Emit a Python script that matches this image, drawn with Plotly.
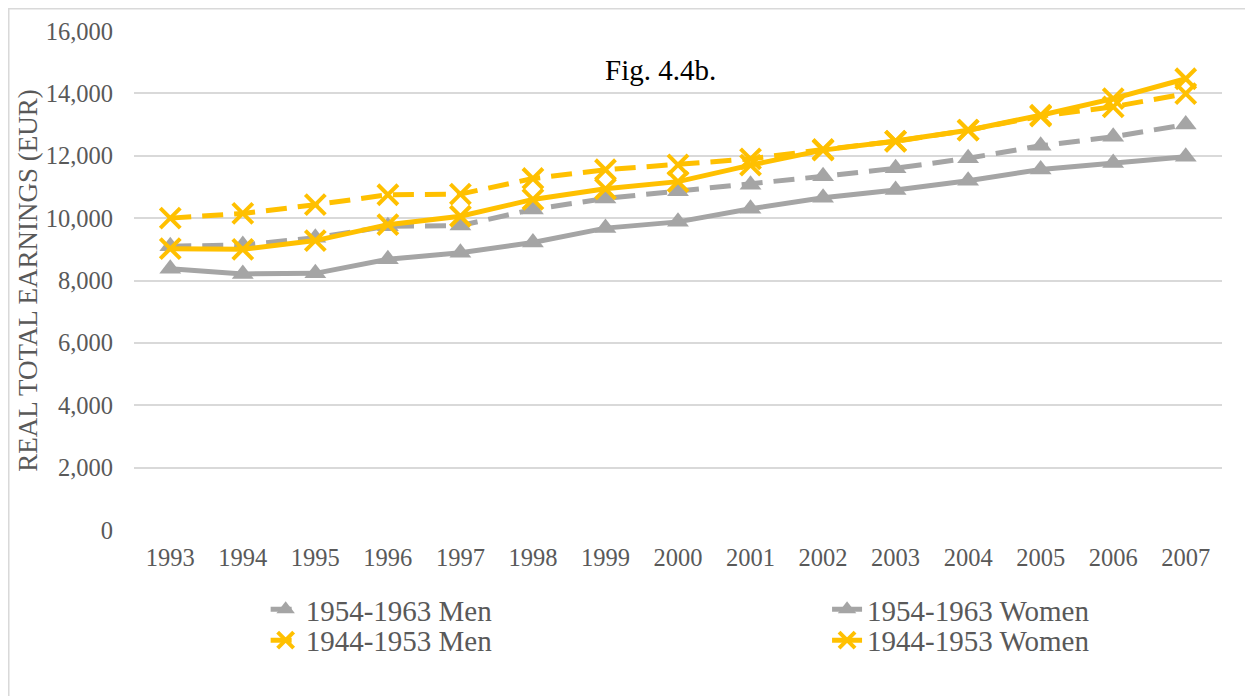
import plotly.graph_objects as go

years = [str(y) for y in range(1993, 2008)]

men_1954_1963 = [9100, 9140, 9370, 9740, 9760, 10280, 10630, 10860, 11070, 11340, 11600, 11920, 12320, 12610, 13000]
women_1954_1963 = [8380, 8210, 8230, 8680, 8890, 9220, 9680, 9880, 10300, 10650, 10900, 11200, 11560, 11770, 11970]
men_1944_1953 = [10000, 10150, 10430, 10750, 10770, 11270, 11550, 11710, 11900, 12200, 12460, 12820, 13270, 13570, 13990]
women_1944_1953 = [9020, 9000, 9280, 9790, 10060, 10600, 10940, 11170, 11700, 12180, 12470, 12820, 13300, 13830, 14470]

series_names = ["1954-1963 Men", "1954-1963 Women", "1944-1953 Men", "1944-1953 Women"]
y_ticks = [0, 2000, 4000, 6000, 8000, 10000, 12000, 14000, 16000]

GRAY = "#A5A5A5"
GOLD = "#FFC000"
TEXT = "#595959"
FONT = "Liberation Serif"

fig = go.Figure()

tri = dict(symbol="triangle-up", size=19, color=GRAY, line=dict(width=0))
xm = dict(symbol="x-thin", size=20, color=GOLD, line=dict(width=4, color=GOLD))

fig.add_trace(go.Scatter(x=years, y=men_1954_1963, name=series_names[0], mode="lines+markers",
                         line=dict(color=GRAY, width=5, dash="21px,11px"), marker=tri, legend="legend"))
fig.add_trace(go.Scatter(x=years, y=women_1954_1963, name=series_names[1], mode="lines+markers",
                         line=dict(color=GRAY, width=5), marker=tri, legend="legend2"))
fig.add_trace(go.Scatter(x=years, y=men_1944_1953, name=series_names[2], mode="lines+markers",
                         line=dict(color=GOLD, width=5, dash="21px,11px"), marker=xm, legend="legend3"))
fig.add_trace(go.Scatter(x=years, y=women_1944_1953, name=series_names[3], mode="lines+markers",
                         line=dict(color=GOLD, width=5), marker=xm, legend="legend4"))

def leg(x, y):
    return dict(orientation="v", x=x, xanchor="left", y=y, yanchor="top",
                font=dict(family=FONT, size=29, color=TEXT),
                bgcolor="rgba(0,0,0,0)", borderwidth=0)

fig.update_layout(
    width=1245, height=688,
    margin=dict(l=126, r=31, t=23, b=166, autoexpand=False),
    paper_bgcolor="white", plot_bgcolor="white",
    font=dict(family=FONT, color=TEXT, size=24.5),
    showlegend=True,
    legend=leg(0.121, -0.108),
    legend2=leg(0.637, -0.108),
    legend3=leg(0.121, -0.170),
    legend4=leg(0.637, -0.170),
    xaxis=dict(type="category", range=[-0.5, 14.5], showgrid=False, showline=False, zeroline=False,
               ticks="", ticklabelstandoff=10,
               tickfont=dict(size=24.5, color=TEXT, family=FONT)),
    yaxis=dict(range=[0, 16000], tickvals=y_ticks, tickformat=",", showgrid=True,
               gridcolor="#D9D9D9", gridwidth=1.5, zeroline=False, showline=False,
               ticks="", ticklabelstandoff=20,
               tickfont=dict(size=24.5, color=TEXT, family=FONT),
               title=dict(text="REAL TOTAL EARNINGS (EUR)", standoff=0,
                          font=dict(size=27, color=TEXT, family=FONT))),
    annotations=[dict(text="Fig. 4.4b.", xref="paper", yref="paper", x=0.484, y=0.921,
                      xanchor="center", yanchor="middle", showarrow=False,
                      font=dict(family=FONT, size=29, color="black"))],
    shapes=[dict(type="rect", xref="paper", yref="paper", x0=-0.1151, y0=-0.4, x1=1.1, y1=1.0446,
                 line=dict(color="#D9D9D9", width=1.5), fillcolor="rgba(0,0,0,0)", layer="below")],
)

fig.write_html("out.html")
